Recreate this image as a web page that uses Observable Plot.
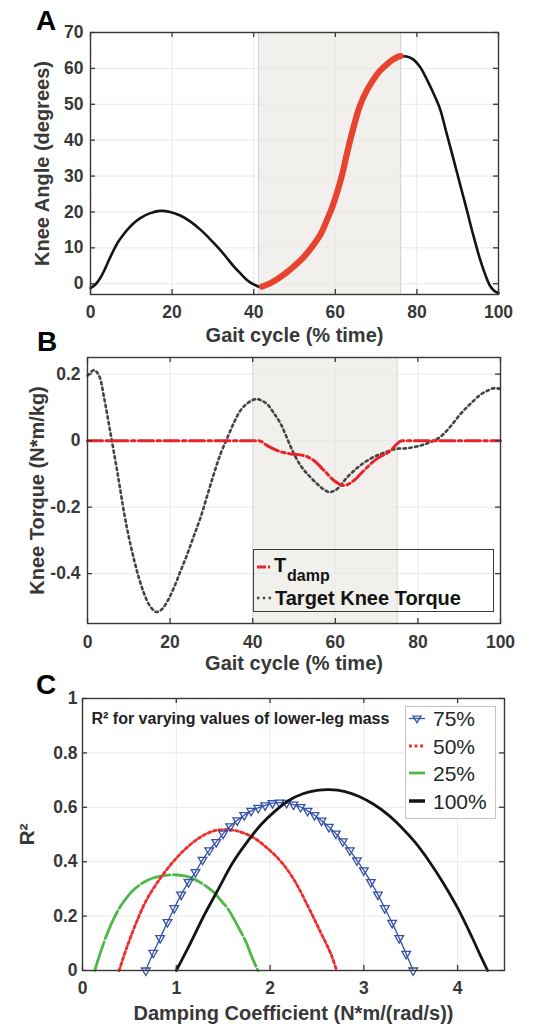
<!DOCTYPE html>
<html>
<head>
<meta charset="utf-8">
<script src="https://cdn.jsdelivr.net/npm/d3@7"></script>
<script src="https://cdn.jsdelivr.net/npm/@observablehq/plot@0.6"></script>
<style>
  body { margin: 0; background: #fff; }
  #wrap { position: relative; width: 539px; height: 1027px; overflow: hidden; background: #fff; }
  #wrap svg.plot-svg { display: block; }
  #overlay { position: absolute; left: 0; top: 0; pointer-events: none; }
</style>
</head>
<body>
<div id="wrap"></div>
<script>
// ---------------- DATA ----------------
// Panel A: knee angle over the gait cycle
const angleGaitPct = [0, 1.2, 2.4, 3.5, 4.6, 5.7, 6.8, 8, 9, 10.5, 12.2, 14.5, 17, 19.5, 22, 24.5, 27, 29, 31, 33, 35, 36.8, 38.4, 40, 41.2,
  42, 43.8, 45.7, 47.8, 49.8, 52.3, 54.7, 56.5, 58, 59.3, 60.4, 61.7, 62.9, 64.4, 66, 67.7, 69.4, 71, 72.7, 74.2, 75.5, 76,
  77.5, 79, 80.7, 82.4, 84, 85.7, 87.3, 89, 90.6, 92.2, 93.8, 95.5, 96.8, 98, 99, 100];
const kneeAngleDeg = [-1.2, -0.2, 1.6, 4, 6.8, 9.4, 11.7, 13.6, 15, 16.8, 18.3, 19.6, 20.3, 20, 19, 17.3, 15, 12.8, 10.4, 7.8, 5, 2.8, 1.0, -0.2, -0.8,
  -0.8, 0, 1.2, 2.9, 4.8, 7.5, 10.9, 14, 17.9, 21.5, 25.3, 30.5, 36.5, 43.3, 49.5, 53.8, 57, 59.4, 61.2, 62.5, 63.3, 63.4,
  63.3, 62.6, 60.5, 57, 53.2, 48.6, 41.8, 34.6, 27.6, 20.7, 13.6, 6.7, 2.4, -0.7, -2, -2.6];
const dampWindowA = [41.2, 76];       // shaded region (% gait)
const dampHighlightA = [41.8, 76];    // red highlighted part of the curve
const gaitTicks = [0, 20, 40, 60, 80, 100];
const angleTicks = [0, 10, 20, 30, 40, 50, 60, 70];

// Panel B: torques
const targetGaitPct = [0, 1.6, 2.8, 4, 5.6, 7.3, 8.9, 10, 11.3, 12.5, 13.7, 15, 16.5, 17.5, 18.5, 19.7, 21, 22.6, 24.2, 25.8, 27.4,
  29, 30.6, 32.2, 33.9, 35.5, 37, 38.5, 40, 41, 42.2, 43.5, 45, 46.8, 48.4, 50, 51.6, 53.2, 55.6, 57, 58.5, 59.5, 60.5, 61.7,
  62.9, 64.4, 66, 68, 70, 72.3, 74.6, 77.4, 80.6, 82.3, 83.9, 85.5, 87, 88.7, 90.3, 92, 93.5, 95, 96.8, 98.5, 100];
const targetTorque = [0.195, 0.212, 0.195, 0.13, 0.02, -0.10, -0.22, -0.29, -0.36, -0.415, -0.46, -0.495, -0.515, -0.512, -0.50,
  -0.475, -0.44, -0.39, -0.34, -0.285, -0.23, -0.165, -0.10, -0.04, 0.01, 0.055, 0.09, 0.11, 0.122, 0.125, 0.12, 0.11, 0.085,
  0.05, 0.005, -0.04, -0.075, -0.10, -0.13, -0.145, -0.155, -0.152, -0.145, -0.128, -0.11, -0.092, -0.075, -0.058, -0.045,
  -0.034, -0.025, -0.023, -0.015, -0.008, 0, 0.012, 0.03, 0.055, 0.08, 0.102, 0.12, 0.137, 0.15, 0.158, 0.155];
const dampGaitPct = [0, 41.5, 43.5, 46, 49.2, 52.4, 54.8, 57.3, 59.7, 62, 64.5, 66.9, 70, 73.4, 75.4, 76.2, 100];
const dampTorque = [0, 0, -0.015, -0.03, -0.04, -0.045, -0.06, -0.09, -0.12, -0.135, -0.12, -0.09, -0.055, -0.03, -0.005, 0, 0];
const dampWindowB = [40, 75];
const torqueTicks = [-0.4, -0.2, 0, 0.2];

// Panel C: R^2 vs damping coefficient for lower-leg mass
const mass25X = [0.13, 0.20, 0.27, 0.34, 0.41, 0.48, 0.55, 0.62, 0.69, 0.76, 0.84, 0.91, 0.98, 1.05, 1.12, 1.19, 1.26, 1.33, 1.40, 1.47, 1.55, 1.62, 1.69, 1.75, 1.80, 1.87];
const mass25R2 = [0, 0.075, 0.141, 0.195, 0.239, 0.272, 0.298, 0.317, 0.331, 0.341, 0.347, 0.351, 0.352, 0.35, 0.345, 0.336, 0.323, 0.307, 0.288, 0.26, 0.227, 0.186, 0.141, 0.10, 0.055, 0];
const mass50X = [0.39, 0.48, 0.59, 0.69, 0.84, 0.98, 1.12, 1.26, 1.40, 1.55, 1.69, 1.83, 1.97, 2.12, 2.26, 2.40, 2.54, 2.65, 2.71];
const mass50R2 = [0, 0.092, 0.19, 0.264, 0.344, 0.405, 0.454, 0.491, 0.513, 0.518, 0.509, 0.487, 0.45, 0.399, 0.331, 0.239, 0.14, 0.06, 0];
const mass75X = [0.675, 0.754, 0.828, 0.906, 0.978, 1.052, 1.130, 1.205, 1.280, 1.351, 1.426, 1.500, 1.575, 1.650, 1.724, 1.799,
  1.874, 1.948, 2.026, 2.101, 2.176, 2.250, 2.325, 2.400, 2.474, 2.549, 2.627, 2.702, 2.776, 2.851, 2.926, 3.000, 3.075, 3.150,
  3.224, 3.302, 3.377, 3.452, 3.526];
const mass75R2 = [0, 0.065, 0.119, 0.178, 0.229, 0.279, 0.325, 0.362, 0.407, 0.442, 0.472, 0.503, 0.530, 0.552, 0.571, 0.587,
  0.598, 0.607, 0.615, 0.617, 0.616, 0.610, 0.601, 0.587, 0.571, 0.551, 0.528, 0.503, 0.475, 0.442, 0.405, 0.368, 0.325, 0.279,
  0.229, 0.175, 0.119, 0.061, 0];
const mass100X = [1.00, 1.15, 1.30, 1.45, 1.60, 1.75, 1.90, 2.05, 2.20, 2.35, 2.50, 2.63, 2.80, 2.95, 3.10, 3.25, 3.40, 3.55, 3.70, 3.85, 4.00, 4.15, 4.25, 4.32];
const mass100R2 = [0, 0.10, 0.205, 0.30, 0.395, 0.47, 0.535, 0.585, 0.625, 0.65, 0.662, 0.665, 0.658, 0.64, 0.612, 0.575, 0.527, 0.47, 0.40, 0.32, 0.23, 0.125, 0.05, 0];
const dampCoefTicks = [0, 1, 2, 3, 4];
const r2Ticks = [0, 0.2, 0.4, 0.6, 0.8, 1];
const massLegend = ["75%", "50%", "25%", "100%"];

// ---------------- STYLE ----------------
const FONT = '"Liberation Sans", Arial, Helvetica, sans-serif';
const AXIS = "#383838";
const GRID = "#e9e9e9";
const SHADE = "#f1f0ec";
const RED_A = "#e8432e";
const RED_B = "#e8242a";
const RED_C = "#ef2b2b";
const BLUE = "#3551a8";
const GREEN = "#4cb848";
const BLACK = "#141414";
const TORQUE_GRAY = "#444444";
const CURVE = "catmull-rom";

const rows = (xs, ys) => xs.map((x, i) => ({x, y: ys[i]}));
const fmt = d => String(d);

function boxTicks(xt, yt, w, h) {
  const o = {stroke: AXIS, strokeWidth: 1.3};
  return [
    Plot.ruleX(xt, {x: d => d, insetTop: h - 5, ...o}),
    Plot.ruleX(xt, {x: d => d, insetBottom: h - 5, ...o}),
    Plot.ruleY(yt, {y: d => d, insetRight: w - 5, ...o}),
    Plot.ruleY(yt, {y: d => d, insetLeft: w - 5, ...o})
  ];
}
const baseStyle = {fontFamily: FONT, fontSize: "17.5px", fontWeight: "bold", color: AXIS, background: "transparent", overflow: "visible"};
const xTitle = (label, dy) => Plot.text([label], {text: d => d, frameAnchor: "bottom", dy, lineAnchor: "middle", textAnchor: "middle", fontSize: 20, fill: AXIS});
const yTitle = (label, dx, size = 20) => Plot.text([label], {text: d => d, frameAnchor: "left", rotate: -90, dx, lineAnchor: "middle", textAnchor: "middle", fontSize: size, fill: AXIS});

// ---------------- PANEL A ----------------
const A = {w: 539, h: 345, mt: 32, mr: 41, mb: 51, ml: 90};
const angleRows = rows(angleGaitPct, kneeAngleDeg);
const plotA = Plot.plot({
  width: A.w, height: A.h, marginTop: A.mt, marginRight: A.mr, marginBottom: A.mb, marginLeft: A.ml,
  style: baseStyle,
  x: {domain: [0, 100]},
  y: {domain: [-3, 70]},
  marks: [
    Plot.rect([{x1: dampWindowA[0], x2: dampWindowA[1]}], {x1: "x1", x2: "x2", fill: SHADE}),
    Plot.gridX(gaitTicks, {stroke: GRID, strokeOpacity: 1}),
    Plot.gridY(angleTicks, {stroke: GRID, strokeOpacity: 1}),
    Plot.ruleX(dampWindowA, {x: d => d, stroke: "#d3d4de", strokeWidth: 1.2}),
    Plot.line(angleRows, {x: "x", y: "y", stroke: BLACK, strokeWidth: 2.6, curve: CURVE}),
    Plot.line(angleRows.filter(d => d.x >= dampHighlightA[0] && d.x <= dampHighlightA[1]),
      {x: "x", y: "y", stroke: RED_A, strokeWidth: 6.2, curve: CURVE}),
    Plot.frame({stroke: AXIS, strokeWidth: 1.4}),
    ...boxTicks(gaitTicks, angleTicks, A.w - A.ml - A.mr, A.h - A.mt - A.mb),
    Plot.axisX(gaitTicks, {tickSize: 0, tickPadding: 11, tickFormat: fmt, label: null}),
    Plot.axisY(angleTicks, {tickSize: 0, tickPadding: 7, tickFormat: fmt, label: null}),
    xTitle("Gait cycle (% time)", 41),
    yTitle("Knee Angle (degrees)", -48)
  ]
});

// ---------------- PANEL B ----------------
const B = {w: 539, h: 330, mt: 12, mr: 39, mb: 52, ml: 87};
const plotB = Plot.plot({
  width: B.w, height: B.h, marginTop: B.mt, marginRight: B.mr, marginBottom: B.mb, marginLeft: B.ml,
  style: baseStyle,
  x: {domain: [0, 100]},
  y: {domain: [-0.55, 0.25]},
  marks: [
    Plot.rect([{x1: dampWindowB[0], x2: dampWindowB[1]}], {x1: "x1", x2: "x2", fill: SHADE}),
    Plot.gridX(gaitTicks, {stroke: GRID, strokeOpacity: 1}),
    Plot.gridY(torqueTicks, {stroke: GRID, strokeOpacity: 1}),
    Plot.ruleX(dampWindowB, {x: d => d, stroke: "#dcdcdc", strokeWidth: 1.2}),
    Plot.line(rows(targetGaitPct, targetTorque), {x: "x", y: "y", stroke: TORQUE_GRAY, strokeWidth: 2.6, strokeDasharray: "2.4,3.4", curve: CURVE}),
    Plot.line(rows(dampGaitPct, dampTorque), {x: "x", y: "y", stroke: RED_B, strokeWidth: 3, strokeDasharray: "15,3.5,3.5,3.5", curve: "monotone-x"}),
    Plot.frame({stroke: AXIS, strokeWidth: 1.4}),
    ...boxTicks(gaitTicks, torqueTicks, B.w - B.ml - B.mr, B.h - B.mt - B.mb),
    Plot.axisX(gaitTicks, {tickSize: 0, tickPadding: 12, tickFormat: fmt, label: null}),
    Plot.axisY(torqueTicks, {tickSize: 0, tickPadding: 7, tickFormat: fmt, label: null}),
    xTitle("Gait cycle (% time)", 40),
    yTitle("Knee Torque (N*m/kg)", -50)
  ]
});

// ---------------- PANEL C ----------------
const C = {w: 539, h: 352, mt: 23, mr: 35, mb: 57, ml: 82};
const plotC = Plot.plot({
  width: C.w, height: C.h, marginTop: C.mt, marginRight: C.mr, marginBottom: C.mb, marginLeft: C.ml,
  style: baseStyle,
  x: {domain: [0, 4.5]},
  y: {domain: [0, 1]},
  marks: [
    Plot.gridX(dampCoefTicks, {stroke: GRID, strokeOpacity: 1}),
    Plot.gridY(r2Ticks, {stroke: GRID, strokeOpacity: 1}),
    Plot.line(rows(mass25X, mass25R2), {x: "x", y: "y", stroke: GREEN, strokeWidth: 2.8, strokeDasharray: "30,3.5", curve: CURVE}),
    Plot.line(rows(mass50X, mass50R2), {x: "x", y: "y", stroke: RED_C, strokeWidth: 2.8, strokeDasharray: "2.8,2.8", curve: CURVE}),
    Plot.line(rows(mass75X, mass75R2), {x: "x", y: "y", stroke: BLUE, strokeWidth: 1.3, curve: CURVE}),
    Plot.dot(rows(mass75X, mass75R2), {x: "x", y: "y", symbol: "triangle", rotate: 180, r: 3.2, stroke: BLUE, strokeWidth: 1.3, fill: "none"}),
    Plot.line(rows(mass100X, mass100R2), {x: "x", y: "y", stroke: BLACK, strokeWidth: 2.8, curve: CURVE}),
    Plot.frame({stroke: AXIS, strokeWidth: 1.4}),
    ...boxTicks(dampCoefTicks, r2Ticks, C.w - C.ml - C.mr, C.h - C.mt - C.mb),
    Plot.axisX(dampCoefTicks, {tickSize: 0, tickPadding: 11, tickFormat: fmt, label: null}),
    Plot.axisY(r2Ticks, {tickSize: 0, tickPadding: 5, tickFormat: fmt, label: null}),
    xTitle("Damping Coefficient (N*m/(rad/s))", 43),
    yTitle("R²", -55, 21),
    Plot.text(["R² for varying values of lower-leg mass"], {text: d => d, frameAnchor: "top-left", dx: 9, dy: 20, lineAnchor: "middle", textAnchor: "start", fontSize: 16, fill: "#222"})
  ]
});

const wrap = document.getElementById("wrap");
for (const p of [plotA, plotB, plotC]) { p.classList.add("plot-svg"); p.style.display = "block"; wrap.appendChild(p); }

// ---------------- OVERLAY: panel letters and legends ----------------
const NS = "http://www.w3.org/2000/svg";
const ov = document.createElementNS(NS, "svg");
ov.setAttribute("id", "overlay");
ov.setAttribute("width", 539); ov.setAttribute("height", 1027);
ov.setAttribute("font-family", FONT);
function el(tag, attrs, parent, text) {
  const e = document.createElementNS(NS, tag);
  for (const k in attrs) e.setAttribute(k, attrs[k]);
  if (text != null) e.textContent = text;
  (parent || ov).appendChild(e);
  return e;
}
// panel letters
el("text", {x: 36, y: 30, "font-size": 28, "font-weight": "bold", fill: "#000"}, ov, "A");
el("text", {x: 37, y: 351, "font-size": 28, "font-weight": "bold", fill: "#000"}, ov, "B");
el("text", {x: 36, y: 694, "font-size": 28, "font-weight": "bold", fill: "#000"}, ov, "C");

// legend B
const gB = el("g", {transform: "translate(253,549)"});
el("rect", {x: 0.5, y: 0.5, width: 240, height: 62, fill: "none", stroke: "#3c3c3c", "stroke-width": 1}, gB);
el("line", {x1: 4, x2: 18, y1: 18, y2: 18, stroke: RED_B, "stroke-width": 3, "stroke-dasharray": "9,2,2,2"}, gB);
el("text", {x: 21, y: 23, "font-size": 20, "font-weight": "bold", fill: "#141414"}, gB, "T");
el("text", {x: 34, y: 31.5, "font-size": 16, "font-weight": "bold", fill: "#141414"}, gB, "damp");
el("line", {x1: 4, x2: 19, y1: 49, y2: 49, stroke: TORQUE_GRAY, "stroke-width": 2.6, "stroke-dasharray": "2.4,3.4"}, gB);
el("text", {x: 22, y: 56, "font-size": 20, "font-weight": "bold", fill: "#141414"}, gB, "Target Knee Torque");

// legend C
const gC = el("g", {transform: "translate(405,706)"});
el("rect", {x: 0.5, y: 0.5, width: 90, height: 112, fill: "#fff", stroke: "#c4c4c4", "stroke-width": 1}, gC);
const legendRowsY = [12.5, 40, 67, 95];
const legendStyles = [
  {stroke: BLUE, w: 1.3, dash: null, marker: true},
  {stroke: RED_C, w: 2.8, dash: "2.8,2.8"},
  {stroke: GREEN, w: 2.8, dash: null},
  {stroke: BLACK, w: 3.5, dash: null}
];
massLegend.forEach((label, i) => {
  const s = legendStyles[i], y = legendRowsY[i];
  const ln = el("line", {x1: 4, x2: 20, y1: y, y2: y, stroke: s.stroke, "stroke-width": s.w}, gC);
  if (s.dash) ln.setAttribute("stroke-dasharray", s.dash);
  if (s.marker) el("path", {d: `M8,${y - 2.3} L16,${y - 2.3} L12,${y + 4.2} Z`, fill: "none", stroke: BLUE, "stroke-width": 1.3}, gC);
  el("text", {x: 28, y: y + 7.5, "font-size": 21, fill: "#262626"}, gC, label);
});
wrap.appendChild(ov);
</script>
</body>
</html>
